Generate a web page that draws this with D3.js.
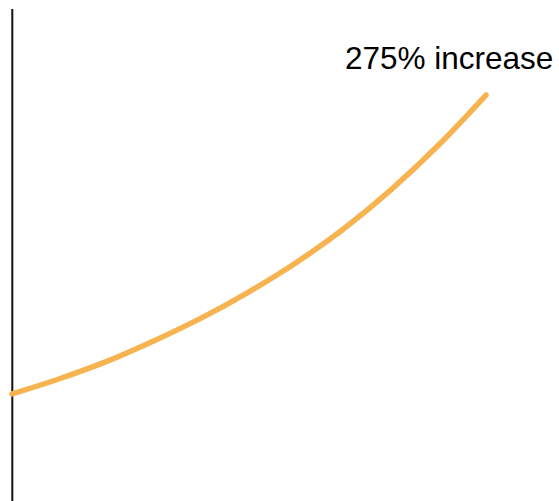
<!DOCTYPE html>
<html>
<head>
<meta charset="utf-8">
<style>
  body { margin: 0; background: #fff; }
  svg { display: block; }
</style>
</head>
<body>
<svg class="chart"></svg>
<script src="https://d3js.org/d3.v7.min.js"></script>
<script>
  // data: steady growth ending 275% up
  const steps = [0, 1, 2, 3, 4, 5, 6, 7, 8, 9, 10]
  const values = [1.00, 1.14, 1.30, 1.49, 1.70, 1.94, 2.21, 2.52, 2.88, 3.29, 3.75]
  const label = '275% increase'

  const width = 559, height = 501

  const svg = d3.select('.chart')
                .attr('width', width)
                .attr('height', height)

  const x = d3.scaleLinear()
              .domain([0, 10])
              .range([12, 486])

  const y = d3.scaleLinear()
              .domain([0, 4.5])
              .range([502.7, 13.5])

  // y axis: just the bare line
  svg.append('line')
     .attr('x1', 12.3).attr('x2', 12.3)
     .attr('y1', 9).attr('y2', height)
     .attr('stroke', '#111')
     .attr('stroke-width', 2)

  const line = d3.line()
                 .x((d, i) => x(steps[i]))
                 .y(d => y(d))
                 .curve(d3.curveMonotoneX)

  svg.append('path')
     .attr('d', line(values))
     .attr('fill', 'none')
     .attr('stroke', '#f6b34f')
     .attr('stroke-width', 5.5)
     .attr('stroke-linecap', 'round')

  svg.append('text')
     .attr('x', 345)
     .attr('y', 69)
     .attr('font-family', 'Liberation Sans, Arial, sans-serif')
     .attr('font-size', 31.5)
     .attr('fill', '#000')
     .text(label)
</script>
</body>
</html>
